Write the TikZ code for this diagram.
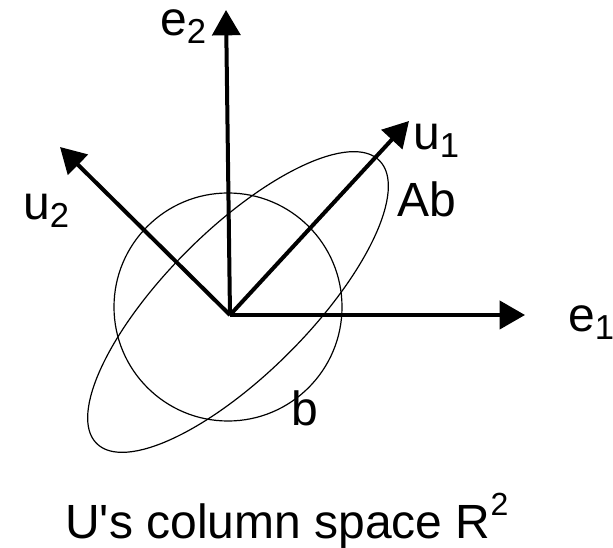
\documentclass[tikz,border=0pt]{standalone}
\usepackage{fontspec}
\setmainfont{Liberation Sans}[Ligatures=TeXOff]
\usepackage{tikz}
\usetikzlibrary{arrows.meta}

\newcommand{\lowidx}[1]{\raisebox{-6pt}{\fontsize{26}{26}\selectfont #1}}
\newcommand{\highidx}[1]{\raisebox{17pt}{\fontsize{24}{24}\selectfont #1}}

\begin{document}
\begin{tikzpicture}[x=0.75pt,y=-0.75pt,
  vec/.style={line width=3pt,-{Triangle[length=19pt,width=21pt]}},
  thin curve/.style={line width=0.9pt},
  lbl/.style={anchor=base west,inner sep=0pt,font=\fontsize{36}{40}\selectfont}]
\useasboundingbox (0,0) rectangle (613,548);
\coordinate (O) at (230,315);
\coordinate (e1tip) at (525,315);
\coordinate (e2tip) at (226,10);
\coordinate (u1tip) at (409,121);
\coordinate (u2tip) at (60,147);
\draw[thin curve] (228,307) circle (114);
\draw[thin curve, rotate around={45:(238,302)}] (238,302) ellipse (200 and 72);
\draw[vec] (O) -- (e1tip);
\draw[vec] (O) -- (e2tip);
\draw[vec] (O) -- (u1tip);
\draw[vec] (O) -- (u2tip);
\node (e1) [lbl] at (568,332) {e\lowidx{1}};
\node (e2) [lbl] at (160,36) {e\lowidx{2}};
\node (u1) [lbl] at (413,150) {u\lowidx{1}};
\node (u2) [lbl] at (23,220) {u\lowidx{2}};
\node (Ab) [lbl] at (397,217) {Ab};
\node (b) [lbl] at (291,425) {b};
\node (title) [lbl] at (65,538) {U's column space R\highidx{2}};
\end{tikzpicture}
\end{document}
